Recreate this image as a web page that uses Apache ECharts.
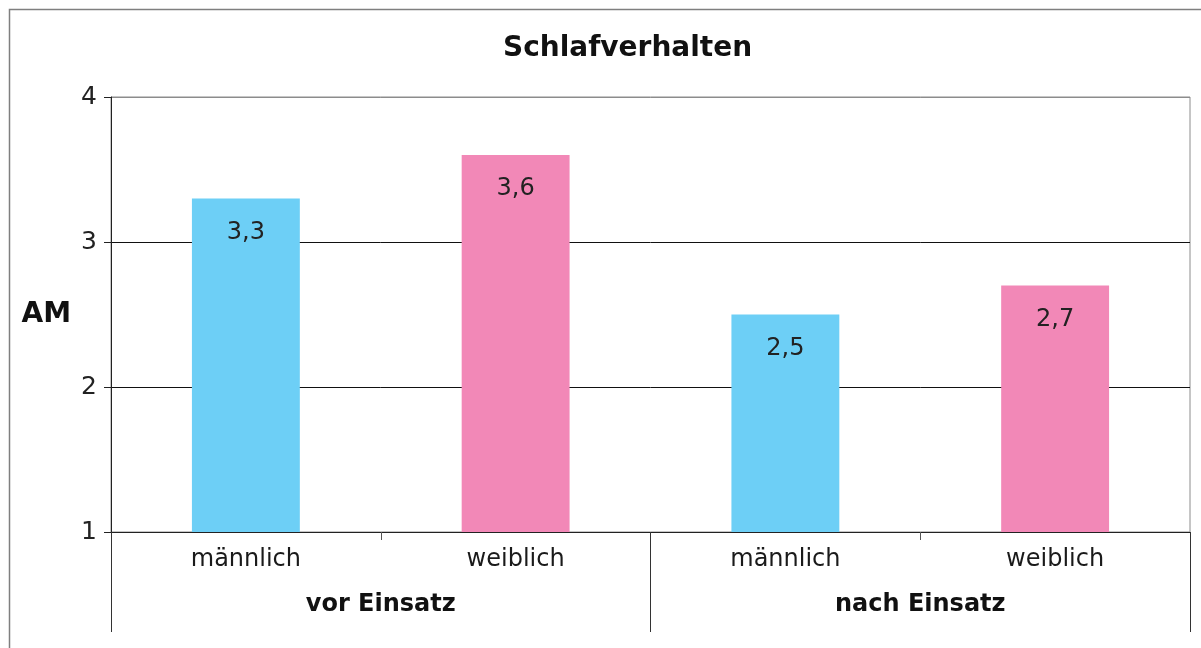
<!DOCTYPE html>
<html>
<head>
<meta charset="utf-8">
<script src="https://cdn.jsdelivr.net/npm/echarts@6/dist/echarts.min.js"></script>
<style>
  html, body { margin: 0; padding: 0; background: #fff; }
  #chart { width: 1201px; height: 648px; }
</style>
</head>
<body>
<div id="chart"></div>
<script>
// data
const categories = ['männlich', 'weiblich', 'männlich', 'weiblich']
const groups = ['vor Einsatz', 'nach Einsatz']
const values = [3.3, 3.6, 2.5, 2.7]
const yTicks = [1, 2, 3, 4]

const BLUE = '#6dcff6'
const PINK = '#f288b7'
const FONT = 'DejaVu Sans'

const chart = echarts.init(document.getElementById('chart'))

const option = {
  animation: false,
  textStyle: { fontFamily: FONT },
  title: {
    text: 'Schlafverhalten',
    left: 498,
    top: 30,
    textStyle: { fontFamily: FONT, fontSize: 28, fontWeight: 'bold', color: '#111' },
  },
  graphic: [
    {
      type: 'rect',
      shape: { x: 9.5, y: 9.5, width: 1300, height: 1000 },
      style: { fill: 'none', stroke: '#7f7f7f', lineWidth: 1.5 },
      silent: true,
    },
  ],
  grid: {
    left: 111,
    right: 11,
    top: 97,
    bottom: 116,
    show: true,
    borderColor: '#8c8c8c',
    borderWidth: 1,
  },
  xAxis: [
    {
      type: 'category',
      data: categories,
      position: 'bottom',
      axisLine: { lineStyle: { color: '#222', width: 1 } },
      axisTick: { show: true, length: 8, lineStyle: { color: '#555' } },
      axisLabel: { fontFamily: FONT, fontSize: 24, color: '#1a1a1a', margin: 16 },
    },
    {
      type: 'category',
      data: groups,
      position: 'bottom',
      axisLine: { show: false },
      axisTick: { show: true, length: 100, lineStyle: { color: '#333' } },
      axisLabel: { fontFamily: FONT, fontSize: 24, fontWeight: 'bold', color: '#111', margin: 61 },
    },
  ],
  yAxis: {
    type: 'value',
    min: yTicks[0],
    max: yTicks[yTicks.length - 1],
    interval: 1,
    name: 'AM',
    nameLocation: 'middle',
    nameRotate: 0,
    nameGap: 40,
    nameTextStyle: { fontFamily: FONT, fontSize: 28, fontWeight: 'bold', color: '#111' },
    axisLine: { show: true, lineStyle: { color: '#222', width: 1 } },
    axisTick: { show: true, length: 7, lineStyle: { color: '#222' } },
    axisLabel: { fontFamily: FONT, fontSize: 25, color: '#222', margin: 14 },
    splitLine: { show: true, lineStyle: { color: ['#111', '#111', '#111', '#8c8c8c'], width: 1 } },
  },
  series: [
    {
      type: 'bar',
      xAxisIndex: 0,
      data: values,
      barWidth: '40%',
      itemStyle: {
        color: (p) => (p.dataIndex % 2 === 0 ? BLUE : PINK),
      },
      label: {
        show: true,
        position: 'insideTop',
        distance: 22,
        fontFamily: FONT,
        fontSize: 24,
        color: '#222',
        formatter: (p) => String(p.value).replace('.', ','),
      },
    },
  ],
}

chart.setOption(option)
</script>
</body>
</html>
